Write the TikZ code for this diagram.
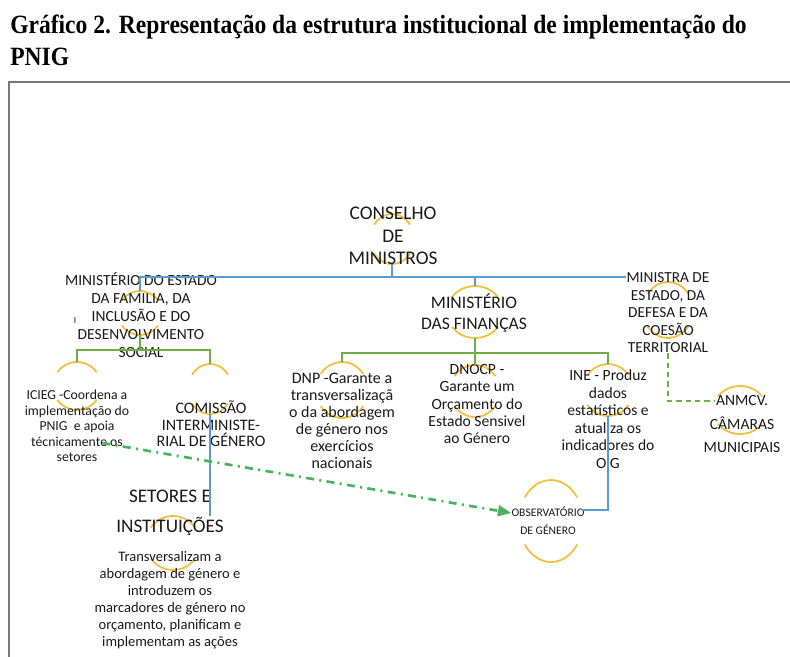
\documentclass[tikz,border=0pt]{standalone}
\usepackage{graphicx}
\usepackage{fontspec}
\setmainfont{Carlito}
\newfontfamily\titlefont{Liberation Serif}
\usetikzlibrary{arrows.meta, positioning, calc, shapes.geometric}

\definecolor{ink}{RGB}{25,25,25}
\definecolor{lineblue}{RGB}{91,155,213}
\definecolor{linegreen}{RGB}{112,173,71}
\definecolor{arrowgreen}{RGB}{70,180,90}
\definecolor{haloyellow}{RGB}{242,190,60}
\definecolor{framegray}{RGB}{120,120,120}

\newcommand{\fs}[2]{\fontsize{#1}{#2}\selectfont}
% yellow ring behind a unit: only its top and bottom arcs show
\newcommand{\halo}[4]{%
  \pgfmathsetlengthmacro\haloxr{0.75pt*#3}%
  \pgfmathsetlengthmacro\haloyr{0.75pt*#4}%
  \node[ring, minimum width=2*\haloxr, minimum height=2*\haloyr] (#1) at #2 {};
  \draw[halo] (#1.center) ++(35:{\haloxr} and {\haloyr}) arc[start angle=35, end angle=145, x radius=\haloxr, y radius=\haloyr];
  \draw[halo] (#1.center) ++(215:{\haloxr} and {\haloyr}) arc[start angle=215, end angle=325, x radius=\haloxr, y radius=\haloyr];}

\begin{document}
\begin{tikzpicture}[x=0.75pt, y=-0.75pt,
    box/.style={align=center, inner sep=0pt, text=ink},
    ring/.style={ellipse, inner sep=0pt, outer sep=0pt},
    halo/.style={draw=haloyellow, line width=1.3pt},
    treeblue/.style={draw=lineblue, line width=1.2pt},
    treegreen/.style={draw=linegreen, line width=1.4pt},
    linkdash/.style={draw=linegreen, line width=1pt, dash pattern=on 4pt off 3pt},
    linkarrow/.style={draw=arrowgreen, line width=2pt, dash pattern=on 6pt off 4pt on 1.5pt off 4pt, -{Triangle[length=10pt, width=8pt]}}]
    \useasboundingbox (0,0) rectangle (790,657);
    \clip (0,0) rectangle (790,657);

    % Title and frame
    \node[anchor=base west, inner sep=0pt, text=black, font=\titlefont\bfseries\fs{19}{22}] (title) at (10,33) {\scalebox{0.93}[1.04]{Gráfico 2. Representação da estrutura institucional de implementação do}};
    \node[anchor=base west, inner sep=0pt, text=black, font=\titlefont\bfseries\fs{19}{22}] (titlepnig) at (10,65) {\scalebox{0.93}[1.04]{PNIG}};
    \draw[framegray, line width=0.8pt] (9,700) |- (800,82);

    % Rings
    \halo{hcm}{(392,239)}{22}{25}
    \halo{hfam}{(140,313)}{22}{22}
    \halo{hfin}{(475,312)}{28}{26}
    \halo{hmre}{(668,310)}{25}{28}
    \halo{hicieg}{(77,386)}{24}{24}
    \halo{hcig}{(210,389)}{22}{25}
    \halo{hdnp}{(342,390)}{26}{28}
    \halo{hdnocp}{(475,391)}{25}{26}
    \halo{hine}{(608,390)}{25}{26}
    \halo{hanm}{(740,410)}{27}{24}
    \halo{hog}{(551,521)}{32}{41}
    \halo{hset}{(173,543)}{27}{27}

    % Units
    \node[box, font=\fs{14.5}{17}] (cm) at (393,236) {CONSELHO\\DE\\MINISTROS};
    \node[box, font=\fs{11.6}{13.5}] (fam) at (141,315) {MINISTÉRIO DO ESTADO\\DA FAMILIA, DA\\INCLUSÃO E DO\\DESENVOLVIMENTO\\SOCIAL};
    \node[box, font=\fs{7}{8}] (cursor) at (75,321) {I};
    \node[box, font=\fs{13.2}{15.5}] (fin) at (474,313) {MINISTÉRIO\\DAS FINANÇAS};
    \node[box, font=\fs{11.5}{13.1}] (mre) at (668,313) {MINISTRA DE\\ESTADO, DA\\DEFESA E DA\\COESÃO\\TERRITORIAL};
    \node[box, font=\fs{10.3}{11.6}] (icieg) at (77,426) {ICIEG -Coordena a\\implementação do\\PNIG~ e apoia\\técnicamente os\\setores};
    \node[box, font=\fs{12}{12.4}] (cig) at (211,424) {COMISSÃO\\INTERMINISTE-\\RIAL DE GÉNERO};
    \node[box, font=\fs{12}{12.8}] (dnp) at (342,421) {DNP -Garante a\\transversalizaçã\\o da abordagem\\de género nos\\exercícios\\nacionais};
    \node[box, font=\fs{11.7}{12.8}] (dnocp) at (477,404) {DNOCP -\\Garante um\\Orçamento do\\Estado Sensivel\\ao Género};
    \node[box, font=\fs{11.7}{13.1}] (ine) at (608,419) {INE - Produz\\dados\\estatísticos e\\atualiza os\\indicadores do\\O.G};
    \node[box, font=\fs{11.7}{17.3}] (anm) at (742,424) {ANMCV.\\CÂMARAS\\MUNICIPAIS};
    \node[box, font=\fs{8.7}{13.5}] (og) at (548,521) {OBSERVATÓRIO\\DE GÉNERO};
    \node[box, font=\fs{14.4}{23}] (set) at (170,513) {SETORES E\\INSTITUIÇÕES};
    \node[box, font=\fs{10.9}{12.8}] (setdesc) at (170,600) {Transversalizam a\\abordagem de género e\\introduzem os\\marcadores de género no\\orçamento, planificam e\\implementam as ações};

    % Connectors
    \coordinate (topbus) at (392,277);
    \draw[treeblue] (hcm.south) -- (topbus) -| (hfam.north);
    \draw[treeblue] (topbus) -| (hfin.north);
    \draw[treeblue] (topbus) -- (topbus -| mre.west);
    \coordinate (fambus) at (140,350);
    \draw[treegreen] (hfam.south) -- (fambus) -| (hicieg.north);
    \draw[treegreen] (fambus) -| (hcig.north);
    \coordinate (finbus) at (475,353);
    \draw[treegreen] (hfin.south) -- (finbus) -| (hdnp.north);
    \draw[treegreen] (finbus) -| (hine.north);
    \draw[treegreen] (finbus) -- (hdnocp.north);
    \draw[treeblue] (hcig.south) -- (hcig.south |- hset.north);
    \draw[treeblue] (hine.south) |- (hog.20);
    \draw[linkdash] (mre.south) |- (hanm.160);
    \coordinate (iciegout) at ($(icieg.east)+(-27,17)$);
    \draw[linkarrow] (iciegout) -- ($(og.west)+(0,-8)$);
\end{tikzpicture}
\end{document}
